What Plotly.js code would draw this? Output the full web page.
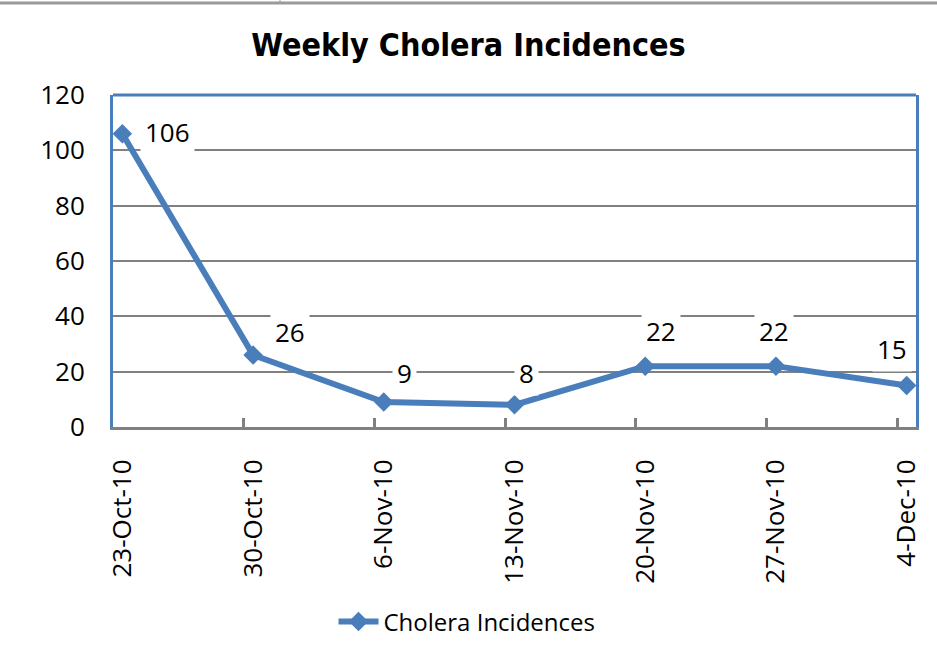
<!DOCTYPE html>
<html>
<head>
<meta charset="utf-8">
<script src="https://cdn.plot.ly/plotly-3.0.1.min.js"></script>
<style>html,body{margin:0;padding:0;background:#fff;}#chart{width:937px;height:653px;}</style>
</head>
<body>
<div id="chart"></div>
<script>
// ---- data ----
const weekDates = ['2010-10-23','2010-10-30','2010-11-06','2010-11-13','2010-11-20','2010-11-27','2010-12-04'];
const weekLabels = ['23-Oct-10','30-Oct-10','6-Nov-10','13-Nov-10','20-Nov-10','27-Nov-10','4-Dec-10'];
const incidences = [106, 26, 9, 8, 22, 22, 15];
const seriesName = 'Cholera Incidences';
const chartTitle = 'Weekly Cholera Incidences';

// ---- style ----
const BLUE = '#4A7EBB';
const GRID = '#808080';
const FONT = 'Open Sans, Liberation Sans, sans-serif';
const labelShift = [[45,2],[37,23],[21,29],[12,32],[16,35],[-2,35],[-15,37]];

const HALF_DAY = 12*3600*1000;
const ms = weekDates.map(d => new Date(d + 'T00:00:00Z').getTime());
const xRange = [ms[0]-HALF_DAY, ms[ms.length-1]+HALF_DAY];
const boundaryTicks = ms.slice(1).map(t => t - HALF_DAY);

const trace = {
  x: weekDates, y: incidences, name: seriesName, type: 'scatter', mode: 'lines+markers',
  line: {color: BLUE, width: 6},
  marker: {symbol: 'diamond', size: 15, color: BLUE},
  cliponaxis: false
};

const annotations = incidences.map((v,i) => ({
  x: weekDates[i], y: v, xref: 'x', yref: 'y', text: String(v), showarrow: false,
  xshift: labelShift[i][0], yshift: labelShift[i][1],
  bgcolor: '#ffffff', borderpad: 4,
  font: {family: FONT, size: 26, color: '#000'}
}));

const layout = {
  width: 937, height: 653,
  margin: {l: 113, r: 21, t: 95, b: 226, autoexpand: false},
  paper_bgcolor: '#fff', plot_bgcolor: '#fff',
  title: {text: '<b>' + chartTitle + '</b>', x: 0.5, xanchor: 'center', xref: 'container',
          y: 0.931, yanchor: 'middle', yref: 'container',
          font: {family: 'Liberation Sans Narrow, DejaVu Sans Condensed, sans-serif', size: 32, color: '#000'}},
  xaxis: {
    type: 'date', range: xRange,
    tickmode: 'array', tickvals: weekDates, ticktext: weekLabels, tickangle: -90,
    ticks: '', ticklabelstandoff: 19,
    tickfont: {family: FONT, size: 26, color: '#000'},
    showgrid: false, zeroline: false,
    showline: true, linecolor: GRID, linewidth: 3,
    minor: {tickmode: 'array', tickvals: boundaryTicks, ticks: 'inside', ticklen: 9, tickwidth: 3, tickcolor: GRID, showgrid: false}
  },
  yaxis: {
    range: [0, 120], dtick: 20, tick0: 0,
    ticks: '', ticklabelstandoff: 20,
    tickfont: {family: FONT, size: 26, color: '#000'},
    showgrid: true, gridcolor: GRID, gridwidth: 2, zeroline: false,
    showline: true, mirror: true, linecolor: BLUE, linewidth: 3
  },
  showlegend: true,
  legend: {orientation: 'h', x: (467-113)/803, xanchor: 'center', y: -0.587, yanchor: 'middle',
           font: {family: FONT, size: 24, color: '#000'}, itemwidth: 40},
  annotations: annotations,
  shapes: [
    {type: 'line', xref: 'paper', yref: 'paper', x0: 0, x1: 1, y0: 1, y1: 1, line: {color: BLUE, width: 3}},
    {type: 'line', xref: 'paper', yref: 'paper', x0: -0.141, x1: 1.027, y0: (427-3)/332, y1: (427-3)/332, line: {color: '#9a9a9a', width: 3}},
    {type: 'line', xref: 'paper', yref: 'paper', x0: (280-113)/803, x1: (280-113)/803, y0: (427-3)/332, y1: 427/332, line: {color: '#9a9a9a', width: 1}}
  ]
};

Plotly.newPlot('chart', [trace], layout, {displayModeBar: false, staticPlot: true});
</script>
</body>
</html>
